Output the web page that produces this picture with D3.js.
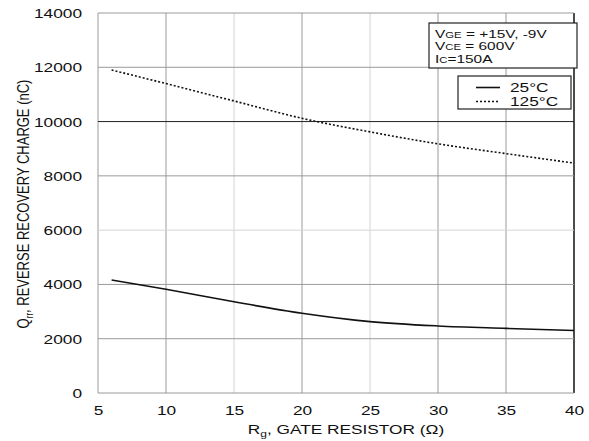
<!DOCTYPE html>
<html>
<head>
<meta charset="utf-8">
<script src="https://cdn.jsdelivr.net/npm/d3@7"></script>
<style>
  body { margin: 0; background: #fff; }
  svg { display: block; font-family: "Liberation Sans", Arial, sans-serif; }
</style>
</head>
<body>
<div id="chart"></div>
<script>
// gate resistor values (ohm) and reverse recovery charge (nC)
var rg = [6, 10, 15, 20, 25, 30, 35, 40];
var qrr25 = [4160, 3820, 3360, 2940, 2630, 2470, 2380, 2300];
var qrr125 = [11900, 11400, 10760, 10120, 9620, 9180, 8820, 8470];

var xTicks = [5, 10, 15, 20, 25, 30, 35, 40];
var yTicks = [0, 2000, 4000, 6000, 8000, 10000, 12000, 14000];
var lightX = [15, 25];
var lightY = [6000];

var svgWidth = 589;
var svgHeight = 441;
var margin = { top: 13, right: 15, bottom: 48, left: 98 };
var width = svgWidth - margin.left - margin.right;
var height = svgHeight - margin.top - margin.bottom;

// the scanned original is stretched horizontally, text too
var sx = 1.33;

var svg = d3.select("#chart")
  .append("svg")
  .attr("width", svgWidth)
  .attr("height", svgHeight);

var chartGroup = svg.append("g")
  .attr("transform", `translate(${margin.left}, ${margin.top})`);

var xScale = d3.scaleLinear().domain([5, 40]).range([0, width]);
var yScale = d3.scaleLinear().domain([0, 14000]).range([height, 0]);

// grid
chartGroup.append("g")
  .selectAll("line")
  .data(xTicks)
  .enter()
  .append("line")
  .attr("x1", d => xScale(d)).attr("x2", d => xScale(d))
  .attr("y1", 0).attr("y2", height)
  .attr("stroke", d => d == 40 ? "#111" : (lightX.includes(d) ? "#d4d4d4" : "#9a9a9a"))
  .attr("stroke-width", d => d == 40 ? 1.5 : 1);

chartGroup.append("g")
  .selectAll("line")
  .data(yTicks)
  .enter()
  .append("line")
  .attr("x1", 0).attr("x2", width)
  .attr("y1", d => yScale(d)).attr("y2", d => yScale(d))
  .attr("stroke", d => d == 10000 ? "#222" : (lightY.includes(d) ? "#d4d4d4" : "#9a9a9a"))
  .attr("stroke-width", 1);

// axes (labels only, no tick marks)
var bottomAxis = d3.axisBottom(xScale).tickValues(xTicks).tickSize(0).tickFormat(d3.format("d"));
var leftAxis = d3.axisLeft(yScale).tickValues(yTicks).tickSize(0).tickFormat(d3.format("d"));

var xAxisG = chartGroup.append("g")
  .attr("transform", `translate(0, ${height})`)
  .call(bottomAxis);
xAxisG.select(".domain").remove();
xAxisG.selectAll("text")
  .attr("font-size", 13)
  .attr("font-family", "Liberation Sans, Arial, sans-serif")
  .attr("fill", "#111")
  .attr("y", 22)
  .attr("dy", 0)
  .attr("transform", `scale(${sx},1)`);

var yAxisG = chartGroup.append("g").call(leftAxis);
yAxisG.select(".domain").remove();
yAxisG.selectAll("text")
  .attr("font-size", 13)
  .attr("font-family", "Liberation Sans, Arial, sans-serif")
  .attr("fill", "#111")
  .attr("x", -16 / sx)
  .attr("dy", "0.35em")
  .attr("transform", `scale(${sx},1)`);

// curves
var qLine = d3.line()
  .x((d, i) => xScale(rg[i]))
  .y(d => yScale(d))
  .curve(d3.curveMonotoneX);

chartGroup.append("path")
  .datum(qrr25)
  .attr("d", qLine)
  .attr("fill", "none")
  .attr("stroke", "#111")
  .attr("stroke-width", 1.6);

chartGroup.append("path")
  .datum(qrr125)
  .attr("d", qLine)
  .attr("fill", "none")
  .attr("stroke", "#111")
  .attr("stroke-width", 1.6)
  .attr("stroke-dasharray", "2,2");

// condition box
svg.append("rect")
  .attr("x", 429).attr("y", 23)
  .attr("width", 148).attr("height", 45)
  .attr("fill", "#fff")
  .attr("stroke", "#222")
  .attr("stroke-width", 1.2);

var cond = [
  ["V", "GE", " = +15V, -9V"],
  ["V", "CE", " = 600V"],
  ["I", "C", "=150A"]
];
cond.forEach(function(c, i) {
  var t = svg.append("text")
    .attr("transform", `translate(435, ${37.5 + i * 12.8}) scale(${sx},1)`)
    .attr("font-size", 11.6)
    .attr("fill", "#111");
  t.append("tspan").text(c[0]);
  t.append("tspan").attr("font-size", 8.5).text(c[1]);
  t.append("tspan").text(c[2]);
});

// legend
svg.append("rect")
  .attr("x", 458).attr("y", 76)
  .attr("width", 113).attr("height", 33)
  .attr("fill", "#fff")
  .attr("stroke", "#222")
  .attr("stroke-width", 1.2);

var legendItems = [
  { label: "25°C", dash: null, y: 87.5 },
  { label: "125°C", dash: "2,2", y: 101.5 }
];
legendItems.forEach(function(d) {
  svg.append("line")
    .attr("x1", 476).attr("x2", 500)
    .attr("y1", d.y).attr("y2", d.y)
    .attr("stroke", "#111")
    .attr("stroke-width", 1.6)
    .attr("stroke-dasharray", d.dash);
  svg.append("text")
    .attr("transform", `translate(510, ${d.y + 4.5}) scale(${sx},1)`)
    .attr("font-size", 13)
    .attr("fill", "#111")
    .text(d.label);
});

// axis titles
var xTitle = svg.append("text")
  .attr("transform", `translate(346, 434) scale(${sx},1)`)
  .attr("text-anchor", "middle")
  .attr("font-size", 13)
  .attr("fill", "#111");
xTitle.append("tspan").text("R");
xTitle.append("tspan").attr("font-size", 9).attr("dy", 3).text("g");
xTitle.append("tspan").attr("dy", -3).text(", GATE RESISTOR (Ω)");

var yTitle = svg.append("text")
  .attr("transform", `translate(29, 204) rotate(-90) scale(1,${sx})`)
  .attr("text-anchor", "middle")
  .attr("font-size", 13)
  .attr("fill", "#111");
yTitle.append("tspan").text("Q");
yTitle.append("tspan").attr("font-size", 8).attr("dy", 3).text("rr");
yTitle.append("tspan").attr("dy", -3).text(", REVERSE RECOVERY CHARGE (nC)");
</script>
</body>
</html>
